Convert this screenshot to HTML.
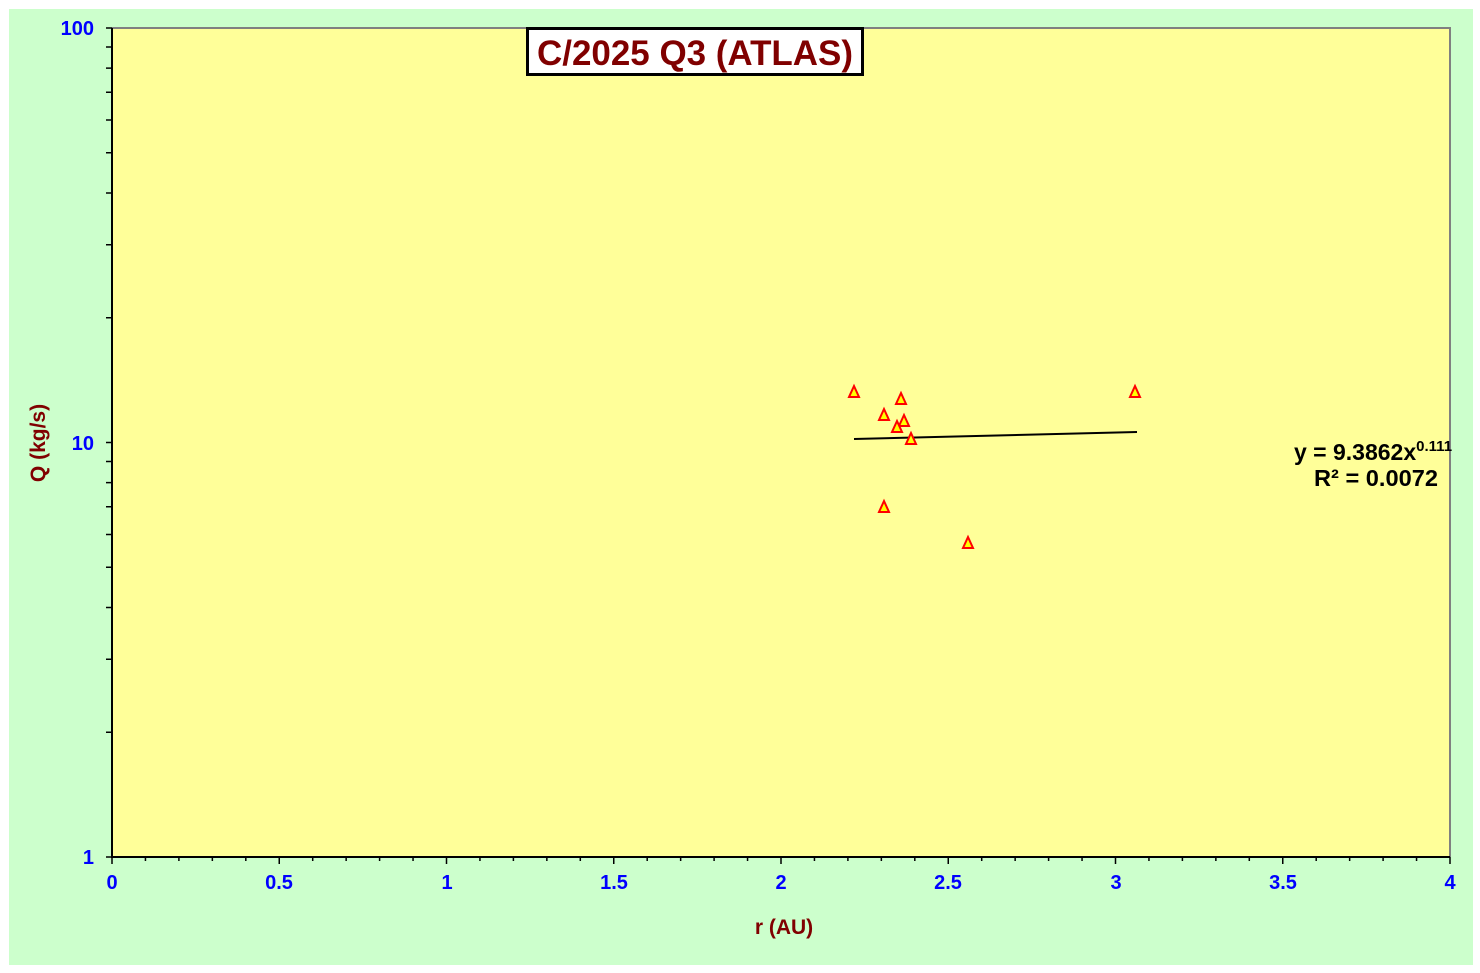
<!DOCTYPE html>
<html><head><meta charset="utf-8"><style>
html,body{margin:0;padding:0;background:#fff;}
svg{display:block;font-family:"Liberation Sans",Arial,sans-serif;font-weight:bold;}
</style></head><body>
<svg width="1480" height="973" viewBox="0 0 1480 973">
<rect x="9" y="9" width="1464" height="956" fill="#ccffcc"/>
<rect x="112" y="28" width="1338" height="829" fill="#ffff99"/>
<path d="M112 28H1450V857" fill="none" stroke="#808080" stroke-width="2"/>
<path d="M112 28V857H1450" fill="none" stroke="#000" stroke-width="2"/>
<g stroke="#000" stroke-width="1.5" id="ticks"></g>
<g fill="#0000ff" font-size="20" text-anchor="end">
<text x="94" y="35">100</text><text x="94" y="450">10</text><text x="94" y="864">1</text>
</g>
<g fill="#0000ff" font-size="20" text-anchor="middle">
<text x="112" y="889">0</text><text x="279" y="889">0.5</text><text x="447" y="889">1</text>
<text x="614" y="889">1.5</text><text x="781" y="889">2</text><text x="948" y="889">2.5</text>
<text x="1116" y="889">3</text><text x="1283" y="889">3.5</text><text x="1450" y="889">4</text>
</g>
<text x="784" y="934" fill="#800000" font-size="21" text-anchor="middle">r (AU)</text>
<text transform="translate(45,443) rotate(-90)" fill="#800000" font-size="21" text-anchor="middle">Q (kg/s)</text>
<line x1="854" y1="439" x2="1137" y2="432" stroke="#000" stroke-width="2"/>
<g fill="#ffff00" stroke="#ff0000" stroke-width="2" id="pts"></g>
<rect x="527.5" y="28.5" width="335" height="46" fill="#fff" stroke="#000" stroke-width="3"/>
<text x="695" y="65" fill="#800000" font-size="35" text-anchor="middle" textLength="316" lengthAdjust="spacingAndGlyphs">C/2025 Q3 (ATLAS)</text>
<text x="1294" y="460" fill="#000" font-size="23">y = 9.3862x<tspan font-size="15" dy="-9">0.111</tspan></text>
<text x="1314" y="486" fill="#000" font-size="23" textLength="124" lengthAdjust="spacingAndGlyphs">R² = 0.0072</text>
</svg>
<script>
var ns="http://www.w3.org/2000/svg",t=document.getElementById("ticks"),s="";
for(var i=0;i<=40;i++){var x=112+i*1338/40;s+="M"+x+" 857v"+(i%5==0?7:4);}
for(var d=0;d<2;d++)for(var k=1;k<=10;k++){var y=857-414.5*(d+Math.log10(k));s+="M106 "+y+"h6";}
var p=document.createElementNS(ns,"path");p.setAttribute("d",s);t.appendChild(p);
var P=[[854,392],[901,399],[884,415],[904,421],[897,427],[911,439],[884,507],[968,543],[1135,392]],g=document.getElementById("pts");
P.forEach(function(q){var e=document.createElementNS(ns,"polygon");e.setAttribute("points",(q[0])+","+(q[1]-6)+" "+(q[0]-5)+","+(q[1]+5)+" "+(q[0]+5)+","+(q[1]+5));g.appendChild(e);});
</script>
</body></html>
